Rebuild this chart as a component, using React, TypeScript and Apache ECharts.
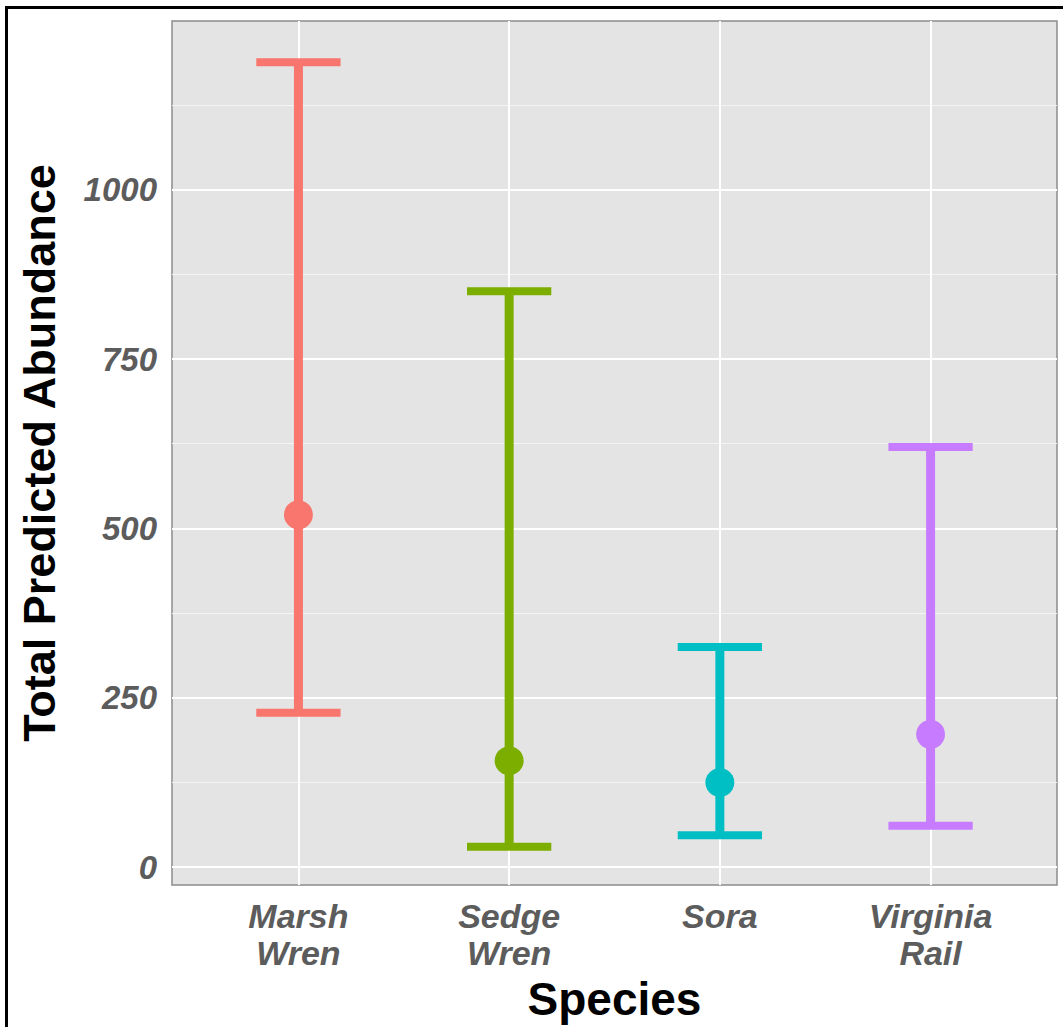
import React, { useEffect, useRef } from "react";
import * as echarts from "echarts";

const categories = ["Marsh\nWren", "Sedge\nWren", "Sora", "Virginia\nRail"];
const positions = [1, 2, 3, 4];
const means = [520, 157, 125, 196];
const lower = [228, 30, 47, 61];
const upper = [1188, 850, 325, 620];
const colors = ["#F8766D", "#7CAE00", "#00BFC4", "#C77CFF"];
const majorTicks = [0, 250, 500, 750, 1000];
const minorTicks = [125, 375, 625, 875, 1125];

const FONT = "'Liberation Sans', Arial, sans-serif";

export default function App() {
  const ref = useRef<HTMLDivElement>(null);
  useEffect(() => {
    document.body.style.margin = "0";
    const chart = echarts.init(ref.current!, null, { renderer: "svg" });
    const option = {
      animation: false,
      backgroundColor: "#ffffff",
      grid: {
        left: 172,
        top: 21,
        right: 6,
        bottom: 139,
        show: true,
        backgroundColor: "#E4E4E4",
        borderColor: "#8c8c8c",
        borderWidth: 1.5,
      },
      xAxis: {
        type: "value",
        min: 0.4,
        max: 4.6,
        name: "Species",
        nameLocation: "middle",
        nameGap: 82,
        nameTextStyle: { fontFamily: FONT, fontSize: 46, fontWeight: "bold", color: "#000" },
        axisLine: { show: false },
        axisTick: { show: false },
        splitLine: { show: false },
        axisLabel: {
          customValues: positions,
          formatter: (v: number) => categories[Math.round(v) - 1],
          fontFamily: FONT,
          fontSize: 34,
          fontWeight: "bold",
          fontStyle: "italic",
          color: "#5c5c5c",
          lineHeight: 37,
          margin: 12,
        },
      },
      yAxis: {
        type: "value",
        min: -26.5,
        max: 1249,
        name: "Total Predicted Abundance",
        nameLocation: "middle",
        nameGap: 110,
        nameTextStyle: { fontFamily: FONT, fontSize: 45, fontWeight: "bold", color: "#000" },
        axisLine: { show: false },
        axisTick: { show: false },
        splitLine: { show: false },
        axisLabel: {
          customValues: majorTicks,
          formatter: (v: number) => String(v),
          fontFamily: FONT,
          fontSize: 33,
          fontWeight: "bold",
          fontStyle: "italic",
          color: "#5c5c5c",
          margin: 15,
        },
      },
      graphic: [
        {
          type: "rect",
          silent: true,
          shape: { x: 6.5, y: 7.5, width: 2000, height: 2000 },
          style: { fill: "none", stroke: "#000", lineWidth: 3 },
          z: 100,
        },
      ],
      series: [
        {
          type: "scatter",
          data: [],
          z: 1,
          silent: true,
          markLine: {
            silent: true,
            z: 1,
            symbol: "none",
            label: { show: false },
            animation: false,
            data: [
              ...minorTicks.map((v) => ({ yAxis: v, lineStyle: { color: "#f4f4f4", width: 1, type: "solid" } })),
              ...majorTicks.map((v) => ({ yAxis: v, lineStyle: { color: "#ffffff", width: 2, type: "solid" } })),
              ...positions.map((v) => ({ xAxis: v, lineStyle: { color: "#ffffff", width: 2, type: "solid" } })),
            ],
          },
        },
        {
          type: "custom",
          z: 10,
          data: positions.map((p, i) => [p, lower[i], upper[i]]),
          renderItem: (params: any, api: any) => {
            const x = api.value(0);
            const lo = api.coord([x, api.value(1)]);
            const hi = api.coord([x, api.value(2)]);
            const hw = api.size([0.2, 0])[0];
            const color = colors[params.dataIndex];
            return {
              type: "group",
              children: [
                {
                  type: "line",
                  shape: { x1: lo[0], y1: lo[1], x2: hi[0], y2: hi[1] },
                  style: { stroke: color, lineWidth: 9 },
                },
                {
                  type: "line",
                  shape: { x1: lo[0] - hw, y1: lo[1], x2: lo[0] + hw, y2: lo[1] },
                  style: { stroke: color, lineWidth: 8 },
                },
                {
                  type: "line",
                  shape: { x1: hi[0] - hw, y1: hi[1], x2: hi[0] + hw, y2: hi[1] },
                  style: { stroke: color, lineWidth: 8 },
                },
              ],
            };
          },
        },
        {
          type: "scatter",
          z: 11,
          symbol: "circle",
          symbolSize: 29,
          data: positions.map((p, i) => ({ value: [p, means[i]], itemStyle: { color: colors[i], opacity: 1 } })),
        },
      ],
    };
    chart.setOption(option as any);
    return () => chart.dispose();
  }, []);
  return <div ref={ref} style={{ width: 1063, height: 1027 }} />;
}
